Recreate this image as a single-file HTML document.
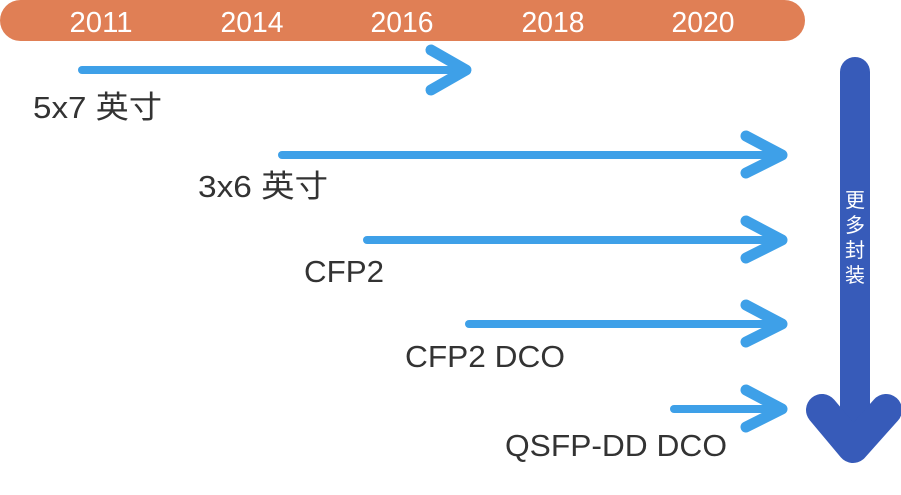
<!DOCTYPE html>
<html><head><meta charset="utf-8"><style>
html,body{margin:0;padding:0;background:#fff;}
body{width:901px;height:495px;overflow:hidden;position:relative;font-family:"Liberation Sans","Noto Sans CJK SC",sans-serif;}
</style></head><body>
<svg width="901" height="495" viewBox="0 0 901 495" xmlns="http://www.w3.org/2000/svg" style="position:absolute;left:0;top:0">
<rect x="0" y="0" width="805" height="41" rx="20.5" fill="#e07f55"/>
<g fill="#fff" font-family="Liberation Sans, sans-serif" font-size="29" text-anchor="middle">
<text x="101" y="32" textLength="63" lengthAdjust="spacingAndGlyphs">2011</text><text x="252" y="32" textLength="63" lengthAdjust="spacingAndGlyphs">2014</text><text x="402" y="32" textLength="63" lengthAdjust="spacingAndGlyphs">2016</text><text x="553" y="32" textLength="63" lengthAdjust="spacingAndGlyphs">2018</text><text x="703" y="32" textLength="63" lengthAdjust="spacingAndGlyphs">2020</text>
</g>
<g stroke="#3ea0e8" stroke-linecap="round" stroke-linejoin="round" fill="none">
<line x1="82" y1="70" x2="462" y2="70" stroke-width="8"/><polyline points="431,50 466,70 431,90" stroke-width="11"/>
<line x1="282" y1="155" x2="782" y2="155" stroke-width="8"/><polyline points="746,136 782,155 746,173" stroke-width="11"/>
<line x1="367" y1="240" x2="782" y2="240" stroke-width="8"/><polyline points="746,221 782,240 746,258" stroke-width="11"/>
<line x1="469" y1="324" x2="782" y2="324" stroke-width="8"/><polyline points="746,305 782,324 746,342" stroke-width="11"/>
<line x1="674" y1="409" x2="782" y2="409" stroke-width="8"/><polyline points="746,390 782,409 746,427" stroke-width="11"/>
</g>
<g stroke="#375bb9" stroke-linecap="round" stroke-linejoin="round" fill="none">
<line x1="855" y1="72" x2="855" y2="440" stroke-width="30"/>
<polyline points="822,410 853,447 886,410" stroke-width="32"/>
</g>
<g fill="#fff" font-size="20" text-anchor="middle" font-family="Liberation Sans, Noto Sans CJK SC, sans-serif">
<text x="855" y="207">更</text><text x="855" y="232">多</text><text x="855" y="257">封</text><text x="855" y="282">装</text>
</g>
<g fill="#333" font-size="31" font-family="Liberation Sans, Noto Sans CJK SC, sans-serif" lengthAdjust="spacingAndGlyphs">
<text x="33" y="118" textLength="129" lengthAdjust="spacingAndGlyphs">5x7 英寸</text>
<text x="198" y="197" textLength="130" lengthAdjust="spacingAndGlyphs">3x6 英寸</text>
<text x="304" y="282" textLength="80" lengthAdjust="spacingAndGlyphs">CFP2</text>
<text x="405" y="367" textLength="160" lengthAdjust="spacingAndGlyphs">CFP2 DCO</text>
<text x="505" y="456" textLength="222" lengthAdjust="spacingAndGlyphs">QSFP-DD DCO</text>
</g>
</svg>
</body></html>
